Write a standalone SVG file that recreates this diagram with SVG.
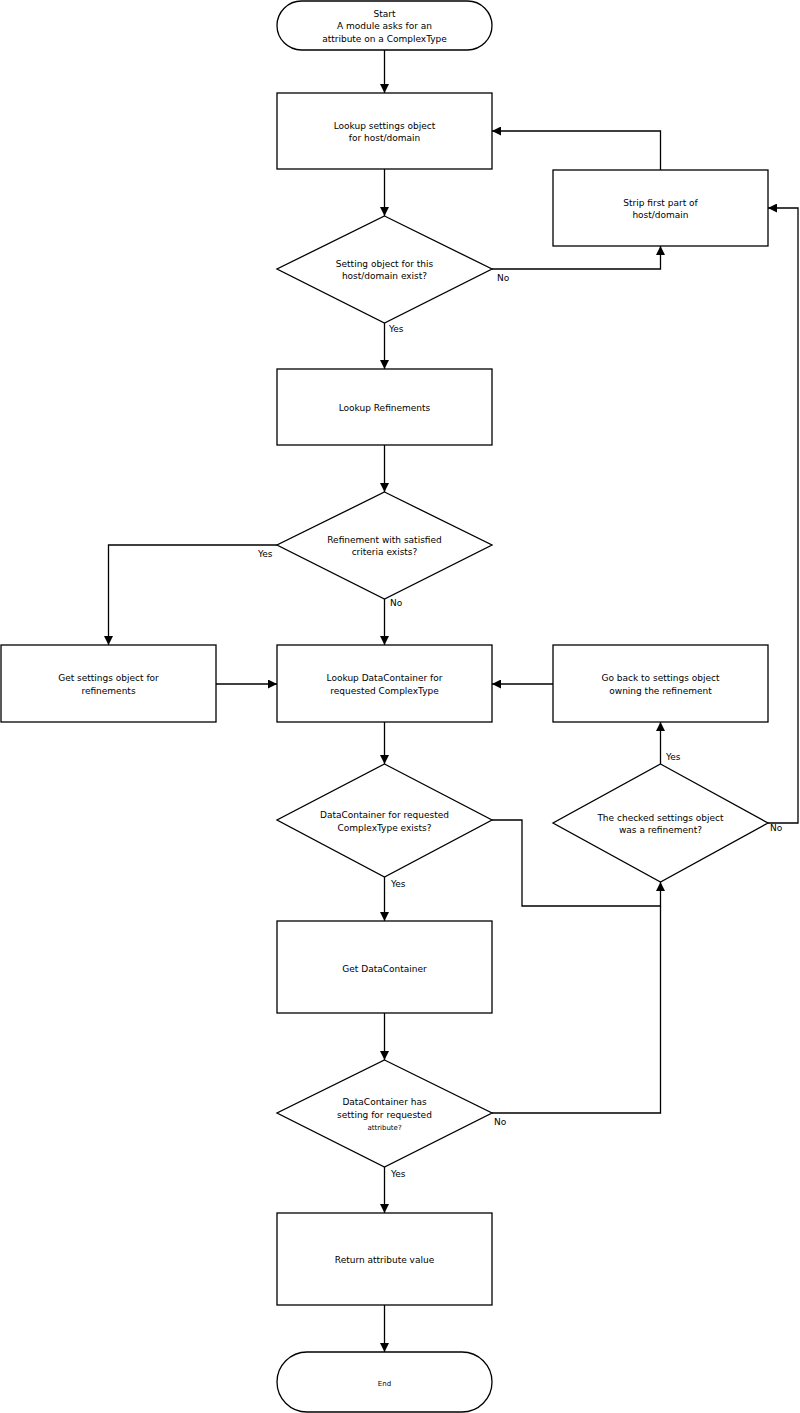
<svg xmlns="http://www.w3.org/2000/svg" width="800" height="1413" viewBox="0 0 800 1413">
<style>
.n{fill:#fff;stroke:#000;stroke-width:1.3}
text{font-family:"DejaVu Sans",sans-serif;font-size:9px;fill:#000;text-anchor:middle}
.l{text-anchor:start}
.c path{fill:none;stroke:#000;stroke-width:1.3}
</style>
<defs><marker id="a" viewBox="0 0 10 10" refX="10" refY="5" markerWidth="9" markerHeight="9" markerUnits="userSpaceOnUse" orient="auto"><path d="M0,0L10,5L0,10z" fill="#000"/></marker></defs>
<rect width="800" height="1413" fill="#fff"/>
<g id="start"><rect class="n" x="277" y="1" width="215" height="49" rx="24.5"/><text x="384.5" y="17">Start</text><text x="384.5" y="29">A module asks for an</text><text x="384.5" y="42">attribute on a ComplexType</text></g>
<g id="lookup1"><rect class="n" x="277" y="93" width="215" height="76"/><text x="384.5" y="129">Lookup settings object</text><text x="384.5" y="141">for host/domain</text></g>
<g id="strip"><rect class="n" x="553" y="170" width="215" height="76"/><text x="660.5" y="206">Strip first part of</text><text x="660.5" y="218">host/domain</text></g>
<g id="d1"><path class="n" d="M384.5,216L492,269L384.5,323L277,269z"/><text x="384.5" y="267">Setting object for this</text><text x="384.5" y="279">host/domain exist?</text></g>
<g id="lookupref"><rect class="n" x="277" y="369" width="215" height="76"/><text x="384.5" y="411">Lookup Refinements</text></g>
<g id="d2"><path class="n" d="M384.5,492L492,545L384.5,599L277,545z"/><text x="384.5" y="543">Refinement with satisfied</text><text x="384.5" y="555">criteria exists?</text></g>
<g id="getsettings"><rect class="n" x="1" y="645" width="215" height="77"/><text x="108.5" y="681">Get settings object for</text><text x="108.5" y="694">refinements</text></g>
<g id="lookupdc"><rect class="n" x="277" y="645" width="215" height="77"/><text x="384.5" y="681">Lookup DataContainer for</text><text x="384.5" y="694">requested ComplexType</text></g>
<g id="goback"><rect class="n" x="553" y="645" width="215" height="77"/><text x="660.5" y="681">Go back to settings object</text><text x="660.5" y="694">owning the refinement</text></g>
<g id="d3"><path class="n" d="M384.5,764L492,820L384.5,877L277,820z"/><text x="384.5" y="818">DataContainer for requested</text><text x="384.5" y="831">ComplexType exists?</text></g>
<g id="d4"><path class="n" d="M660.5,764L768,823L660.5,882L553,823z"/><text x="660.5" y="821">The checked settings object</text><text x="660.5" y="833">was a refinement?</text></g>
<g id="getdc"><rect class="n" x="277" y="921" width="215" height="92"/><text x="384.5" y="972">Get DataContainer</text></g>
<g id="d5"><path class="n" d="M384.5,1060L492,1113L384.5,1167L277,1113z"/><text x="384.5" y="1105">DataContainer has</text><text x="384.5" y="1118">setting for requested</text><text x="384.5" y="1130" style="font-size:7px">attribute?</text></g>
<g id="ret"><rect class="n" x="277" y="1213" width="215" height="92"/><text x="384.5" y="1263">Return attribute value</text></g>
<g id="end"><rect class="n" x="277" y="1352" width="215" height="60" rx="30"/><text x="384.5" y="1386" style="font-size:7px">End</text></g>
<g class="c" id="connectors">
<path d="M384.5,50V93" marker-end="url(#a)"/>
<path d="M660.5,170V131H492" marker-end="url(#a)"/>
<path d="M384.5,169V216" marker-end="url(#a)"/>
<path d="M492,269H660.5V246" marker-end="url(#a)"/>
<path d="M384.5,323V369" marker-end="url(#a)"/>
<path d="M384.5,445V492" marker-end="url(#a)"/>
<path d="M277,545H108.5V645" marker-end="url(#a)"/>
<path d="M384.5,599V645" marker-end="url(#a)"/>
<path d="M216,684H277" marker-end="url(#a)"/>
<path d="M553,684H492" marker-end="url(#a)"/>
<path d="M384.5,722V764" marker-end="url(#a)"/>
<path d="M492,820H522V906H660.5V882" marker-end="url(#a)"/>
<path d="M384.5,877V921" marker-end="url(#a)"/>
<path d="M660.5,764V722" marker-end="url(#a)"/>
<path d="M768,823H798V208H768" marker-end="url(#a)"/>
<path d="M384.5,1013V1060" marker-end="url(#a)"/>
<path d="M492,1113H660.5V906"/>
<path d="M384.5,1167V1213" marker-end="url(#a)"/>
<path d="M384.5,1305V1352" marker-end="url(#a)"/>
</g>
<g id="labels">
<text class="l" x="497" y="281">No</text>
<text class="l" x="389" y="332">Yes</text>
<text class="l" x="258" y="557">Yes</text>
<text class="l" x="390" y="606">No</text>
<text class="l" x="391" y="887">Yes</text>
<text class="l" x="666" y="760">Yes</text>
<text class="l" x="770" y="831">No</text>
<text class="l" x="494" y="1125">No</text>
<text class="l" x="391" y="1177">Yes</text>
</g>
</svg>
